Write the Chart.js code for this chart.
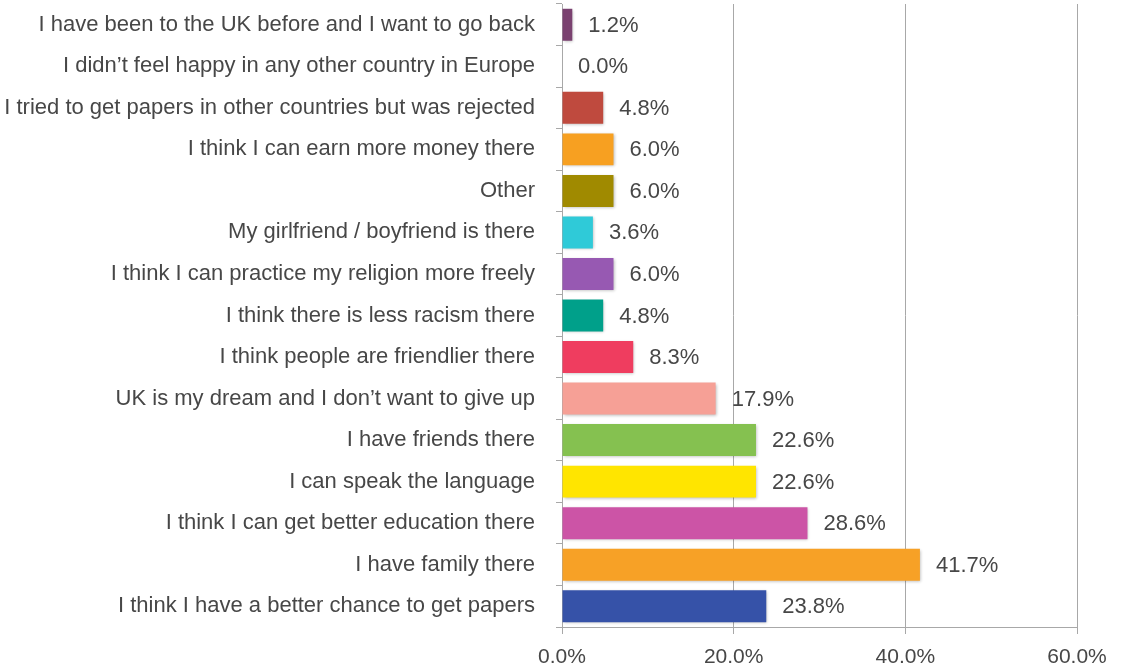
<!DOCTYPE html>
<html>
<head>
<meta charset="utf-8">
<script src="https://cdn.jsdelivr.net/npm/chart.js@4"></script>
<style>
  body { margin: 0; background: #fff; }
  #wrap { width: 1122px; height: 672px; }
</style>
</head>
<body>
<div id="wrap"><canvas id="reasonsChart" width="1122" height="672"></canvas></div>
<script>
const labels = [
  "I have been to the UK before and I want to go back",
  "I didn\u2019t feel happy in any other country in Europe",
  "I tried to get papers in other countries but was rejected",
  "I think I can earn more money there",
  "Other",
  "My girlfriend / boyfriend is there",
  "I think I can practice my religion more freely",
  "I think there is less racism there",
  "I think people are friendlier there",
  "UK is my dream and I don\u2019t want to give up",
  "I have friends there",
  "I can speak the language",
  "I think I can get better education there",
  "I have family there",
  "I think I have a better chance to get papers"
];
const values = [1.2, 0.0, 4.8, 6.0, 6.0, 3.6, 6.0, 4.8, 8.3, 17.9, 22.6, 22.6, 28.6, 41.7, 23.8];
const colors = [
  "#7a4170", "#7a4170", "#bf4a3e", "#f7a021", "#a08a00", "#2fcad8", "#9759b2", "#00a08a",
  "#ef3d5f", "#f6a096", "#85c150", "#ffe500", "#cc54a6", "#f7a126", "#3652a8"
];
const xTicks = [0, 20, 40, 60];

const textColor = "#474747";
const fontFamily = "'Liberation Sans', Arial, sans-serif";

// soft shadow under the bars + value labels at the bar ends
const barExtras = {
  id: "barExtras",
  beforeDatasetsDraw(chart) {
    const ctx = chart.ctx;
    ctx.save();
    ctx.shadowColor = "rgba(0,0,0,0.28)";
    ctx.shadowBlur = 3;
    ctx.shadowOffsetX = 1;
    ctx.shadowOffsetY = 1;
  },
  afterDatasetsDraw(chart) {
    const ctx = chart.ctx;
    ctx.restore();
    const meta = chart.getDatasetMeta(0);
    ctx.save();
    ctx.font = "22px " + fontFamily;
    ctx.fillStyle = textColor;
    ctx.textBaseline = "middle";
    ctx.textAlign = "left";
    meta.data.forEach((bar, i) => {
      ctx.fillText(values[i].toFixed(1) + "%", bar.x + 16, bar.y + 1);
    });
    ctx.restore();
  }
};

new Chart(document.getElementById("reasonsChart"), {
  type: "bar",
  data: {
    labels: labels,
    datasets: [{
      data: values,
      backgroundColor: colors,
      borderWidth: 0,
      barPercentage: 0.77,
      categoryPercentage: 1.0
    }]
  },
  options: {
    indexAxis: "y",
    responsive: false,
    animation: false,
    layout: { padding: { top: 4, right: 45, left: 0, bottom: 0 } },
    plugins: {
      legend: { display: false },
      tooltip: { enabled: false }
    },
    scales: {
      x: {
        min: 0,
        max: 60,
        afterBuildTicks: (scale) => { scale.ticks = xTicks.map(v => ({ value: v })); },
        afterFit: (scale) => { scale.height = 45; },
        grid: { color: "#a8a8a8", lineWidth: 1, tickLength: 7 },
        border: { color: "#a8a8a8" },
        ticks: {
          padding: 11,
          color: textColor,
          font: { family: fontFamily, size: 21 },
          callback: (v) => v.toFixed(1) + "%"
        }
      },
      y: {
        afterFit: (scale) => {
          scale.width = 562;
          scale.paddingTop = 0;
          scale.paddingBottom = 0;
        },
        grid: { drawOnChartArea: false, color: "#a8a8a8", tickLength: 6 },
        border: { color: "#a8a8a8" },
        ticks: {
          padding: 21,
          color: textColor,
          autoSkip: false,
          font: { family: fontFamily, size: 22 }
        }
      }
    }
  },
  plugins: [barExtras]
});
</script>
</body>
</html>
